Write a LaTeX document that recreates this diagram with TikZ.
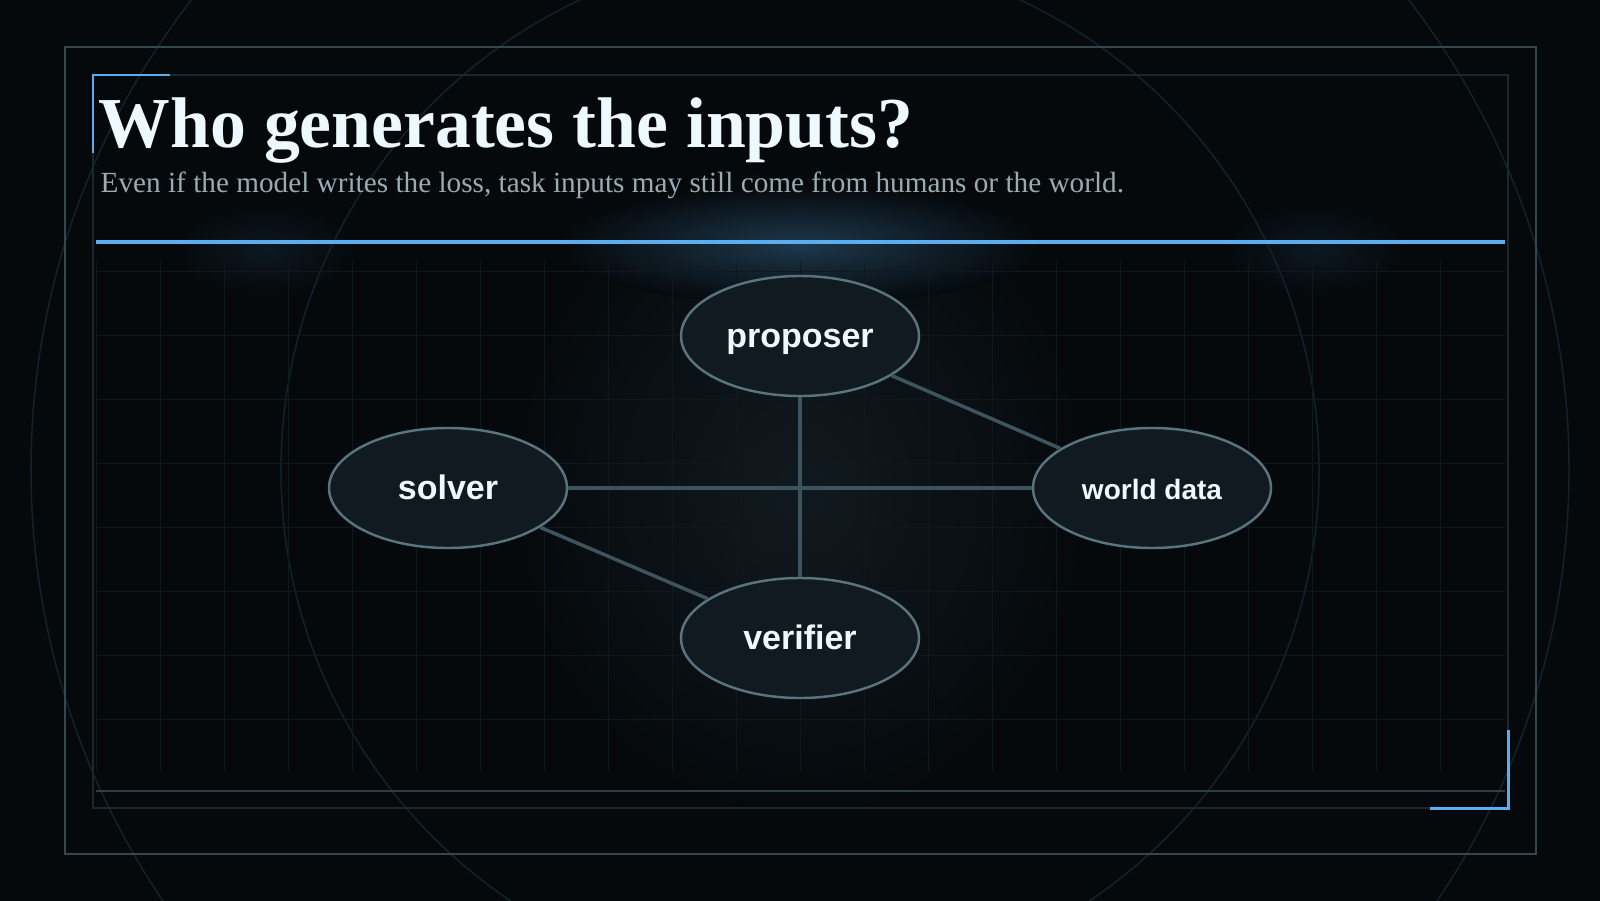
\documentclass[tikz,border=0pt]{standalone}
\usepackage{fontspec}
\setmainfont{Liberation Serif}
\newfontfamily\labelfont{Liberation Sans}
\usepackage{tikz}
\usetikzlibrary{shapes.geometric}

\definecolor{bgcol}{HTML}{05090C}
\definecolor{framecol}{HTML}{34474F}
\definecolor{innerframecol}{HTML}{1B272D}
\definecolor{accentcol}{HTML}{5AAEF0}
\definecolor{gridcol}{HTML}{0E181D}
\definecolor{ringcol}{HTML}{13222A}
\definecolor{titlecol}{HTML}{EEF8FF}
\definecolor{subcol}{HTML}{9AABB4}
\definecolor{nodefillcol}{HTML}{111A20}
\definecolor{nodedrawcol}{HTML}{5A747E}
\definecolor{edgecol}{HTML}{3E545D}

\tikzset{
  agent/.style={ellipse, draw=nodedrawcol, fill=nodefillcol, line width=0.7pt, minimum width=2.38cm, minimum height=1.20cm, inner sep=0pt, text height=0.665em, text depth=0pt, text=titlecol, font=\labelfont\bfseries\fontsize{9.67}{11}\selectfont},
  link/.style={draw=edgecol, line width=1pt}
}

\begin{document}
\begin{tikzpicture}[scale=1]
				\useasboundingbox (0.00, 0.00) rectangle (16.00, 9.00);
				\fill[bgcol] (-0.10, -0.10) rectangle (16.10, 9.10);
				\clip (-0.05, -0.05) rectangle (16.05, 9.05);

				% glows
				\shade[inner color=nodefillcol, outer color=bgcol] (8.00, 4.10) ellipse (2.90 and 3.30);
				\shade[inner color=accentcol!28!bgcol, outer color=bgcol] (8.00, 6.55) ellipse (2.40 and 0.60);
				\shade[inner color=accentcol!9!bgcol, outer color=bgcol] (2.65, 6.50) ellipse (0.90 and 0.45);
				\shade[inner color=accentcol!9!bgcol, outer color=bgcol] (13.15, 6.50) ellipse (0.90 and 0.45);

				% rings
				\draw[ringcol, line width=0.43pt] (8.00, 4.30) circle (7.69);
				\draw[ringcol, line width=0.43pt] (8.00, 4.30) circle (5.19);

				% grid
				\foreach \gx in {0,...,21} {
					\draw[gridcol, line width=0.28pt] ({0.96 + 0.64*\gx}, 1.29) -- ({0.96 + 0.64*\gx}, 6.38);
				}
				\foreach \gy in {0,...,7} {
					\draw[gridcol, line width=0.28pt] (0.96, {6.29 - 0.64*\gy}) -- (15.05, {6.29 - 0.64*\gy});
				}

				% frames
				\draw[framecol, line width=0.57pt] (0.65, 0.46) rectangle (15.36, 8.53);
				\draw[innerframecol, line width=0.43pt] (0.93, 0.92) rectangle (15.08, 8.25);
				\draw[accentcol, line width=0.85pt] (0.93, 7.47) -- (0.93, 8.25) -- (1.70, 8.25);
				\draw[accentcol, line width=0.85pt] (15.08, 1.70) -- (15.08, 0.92) -- (14.30, 0.92);
				\draw[accentcol, line width=1.42pt] (0.96, 6.58) -- (15.05, 6.58);
				\draw[framecol!85!bgcol, line width=0.43pt] (0.96, 1.09) -- (15.05, 1.09);

				% heading
				\node[anchor=base west, inner sep=0pt, text=titlecol, font=\bfseries\fontsize{20.4}{24}\selectfont] (title) at (0.98, 7.52) {Who generates the inputs?};
				\node[anchor=base west, inner sep=0pt, text=subcol, font=\fontsize{8.32}{10}\selectfont] (subtitle) at (1.00, 7.08) {Even if the model writes the loss, task inputs may still come from humans or the world.};

				% agents
				\node[agent] (proposer) at (8.00, 5.64) {proposer};
				\node[agent] (solver) at (4.48, 4.12) {solver};
				\node[agent, font=\labelfont\bfseries\fontsize{7.97}{10}\selectfont] (world) at (11.52, 4.12) {world data};
				\node[agent] (verifier) at (8.00, 2.62) {verifier};

				\draw[link] (proposer) -- (verifier);
				\draw[link] (solver) -- (world);
				\draw[link] (proposer) -- (world);
				\draw[link] (solver) -- (verifier);
			\end{tikzpicture}
\end{document}
